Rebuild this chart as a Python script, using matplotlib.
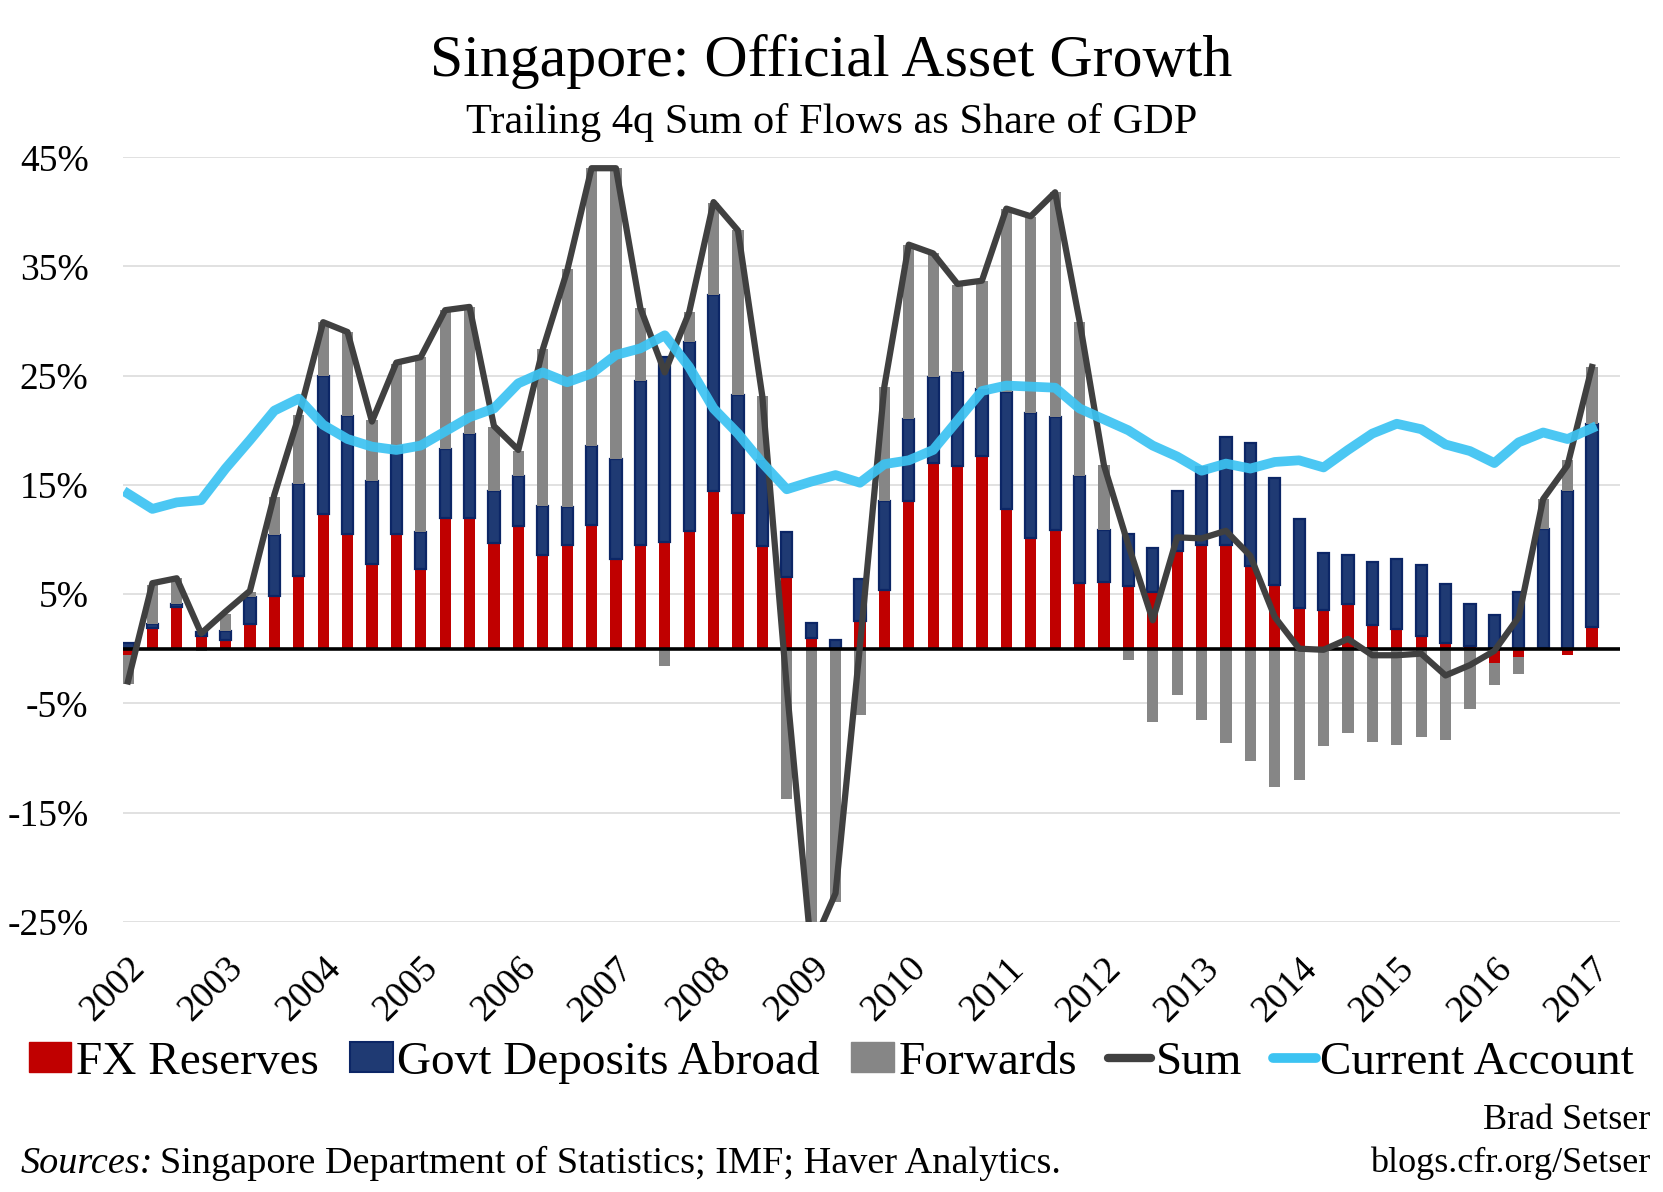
import numpy as np
import matplotlib
matplotlib.use("Agg")
import matplotlib.pyplot as plt
from matplotlib.lines import Line2D
from matplotlib.patches import Patch
import matplotlib.transforms as mtrans

# ---------------- data (quarterly, 2002Q1 .. 2017Q1), % of GDP ----------------
years = [str(y) for y in range(2002, 2018)]

fx_reserves = [-0.6, 1.9, 3.85, 1.15, 0.8, 2.3, 4.85, 6.7, 12.3, 10.5,
               7.8, 10.5, 7.3, 12.0, 12.0, 9.7, 11.2, 8.6, 9.5, 11.3,
               8.2, 9.5, 9.8, 10.8, 14.4, 12.4, 9.4, 6.6, 1.0, 0.0,
               2.5, 5.4, 13.5, 17.0, 16.7, 17.65, 12.75, 10.1, 10.9, 6.0,
               6.1, 5.75, 5.2, 8.95, 9.5, 9.5, 7.6, 5.8, 3.7, 3.5,
               4.1, 2.2, 1.8, 1.2, 0.5, 0.25, -1.3, -0.8, 0.1, -0.6,
               2.0]

govt_deposits = [0.5, 0.35, 0.25, 0.4, 0.85, 2.45, 5.55, 8.4, 12.7, 10.8,
                 7.6, 8.1, 3.4, 6.3, 7.7, 4.7, 4.6, 4.5, 3.5, 7.3,
                 9.2, 15.0, 16.9, 17.3, 18.0, 10.8, 7.9, 4.1, 1.35, 0.8,
                 3.85, 8.1, 7.5, 7.9, 8.65, 6.15, 10.75, 11.5, 10.3, 9.8,
                 4.75, 4.75, 4.05, 5.45, 7.1, 9.9, 11.2, 9.8, 8.2, 5.3,
                 4.45, 5.7, 6.4, 6.45, 5.45, 3.85, 3.1, 5.2, 10.9, 14.4,
                 18.6]

forwards = [-2.6, 3.6, 2.35, -0.2, 1.5, 0.45, 3.5, 6.3, 4.9, 7.7,
            5.5, 7.5, 16.0, 12.7, 11.6, 5.9, 2.3, 14.3, 21.8, 25.4,
            26.6, 6.7, -1.6, 2.7, 8.4, 15.1, 5.8, -13.8, -29.9, -23.2,
            -6.1, 10.5, 16.0, 11.3, 7.95, 9.9, 16.8, 17.9, 20.6, 14.1,
            5.95, -1.0, -6.7, -4.2, -6.5, -8.6, -10.3, -12.7, -12.0, -8.9,
            -7.7, -8.5, -8.8, -8.1, -8.4, -5.5, -2.0, -1.5, 2.7, 2.9,
            5.2]

sum_total = [-3.0, 6.0, 6.45, 1.4, 3.4, 5.3, 14.1, 21.3, 29.9, 29.0,
             20.8, 26.2, 26.7, 31.0, 31.3, 20.4, 18.2, 27.4, 34.6, 44.0,
             44.0, 31.2, 25.3, 30.8, 40.9, 38.3, 23.1, -3.5, -27.5, -22.4,
             0.25, 24.0, 37.0, 36.2, 33.4, 33.7, 40.3, 39.6, 41.8, 30.0,
             16.8, 9.5, 2.6, 10.2, 10.1, 10.8, 8.5, 2.9, 0.0, -0.1,
             0.9, -0.6, -0.6, -0.45, -2.45, -1.5, -0.2, 2.9, 13.7, 16.8,
             25.8]

current_account = [14.2, 12.8, 13.4, 13.6, 16.5, 19.1, 21.8, 22.9, 20.5, 19.2,
                   18.5, 18.2, 18.6, 19.9, 21.2, 22.0, 24.3, 25.3, 24.4, 25.2,
                   26.9, 27.5, 28.7, 25.8, 22.0, 19.7, 17.0, 14.6, 15.3, 15.9,
                   15.2, 16.9, 17.25, 18.2, 20.9, 23.6, 24.1, 24.0, 23.9, 22.0,
                   21.0, 20.0, 18.6, 17.6, 16.3, 16.95, 16.5, 17.1, 17.25, 16.6,
                   18.2, 19.7, 20.6, 20.1, 18.7, 18.1, 17.0, 18.9, 19.8, 19.2,
                   20.2]

y_ticks = [-25, -15, -5, 5, 15, 25, 35, 45]

# ---------------- style ----------------
plt.rcParams['font.family'] = ['Liberation Serif', 'DejaVu Serif']

RED = '#C00000'
NAVY = '#1F3A73'
NAVY_EDGE = '#0C2666'
GRAY = '#868686'
SUM_C = '#404040'
CA_C = '#3CC3F2'

W, H = 1663, 1192
fig = plt.figure(figsize=(W / 100, H / 100), dpi=100)
left, right, top, bottom = 123.3, 1620, 157.3, 921.7
ax = fig.add_axes([left / W, 1 - bottom / H, (right - left) / W, (bottom - top) / H])

n = len(fx_reserves)
x = np.arange(n)
pos = np.zeros(n)
neg = np.zeros(n)
series = [
    (fx_reserves, RED, RED, 0.0),
    (govt_deposits, NAVY, NAVY_EDGE, 1.6),
    (forwards, GRAY, GRAY, 0.0),
]
for vals, fc, ec, lw in series:
    v = np.asarray(vals, dtype=float)
    b = np.where(v >= 0, pos, neg)
    ax.bar(x, v, 0.46, bottom=b, color=fc, edgecolor=ec, linewidth=lw, zorder=2)
    pos = pos + np.where(v >= 0, v, 0)
    neg = neg + np.where(v < 0, v, 0)

ax.axhline(0, color='black', lw=2.6, zorder=3)
ax.plot(x, sum_total, color=SUM_C, lw=4.5, zorder=4, solid_joinstyle='round')
ax.plot(x, current_account, color=CA_C, lw=7.0, alpha=0.92, zorder=5,
        solid_joinstyle='round')

ax.set_ylim(-25, 45)
ax.set_xlim(-0.19, 61.15)
ax.set_yticks(y_ticks)
ax.set_yticklabels([f'{t}%' for t in y_ticks], fontsize=27)
ax.yaxis.grid(True, color='#D9D9D9', lw=1.1)
ax.set_axisbelow(True)
for s in ax.spines.values():
    s.set_visible(False)
ax.tick_params(axis='y', length=0, pad=25)
ax.tick_params(axis='x', length=0, pad=21)

ax.set_xticks(np.arange(0, n, 4))
ax.set_xticklabels(years, fontsize=27, rotation=45, ha='right',
                   rotation_mode='anchor')
offset = mtrans.ScaledTranslation(0.0, 0, fig.dpi_scale_trans)
for lab in ax.get_xticklabels():
    lab.set_transform(lab.get_transform() + offset)

# ---------------- titles ----------------
fig.text(0.5, 1 - 76 / H, 'Singapore: Official Asset Growth', ha='center',
         va='baseline', fontsize=43)
fig.text(0.5, 1 - 133 / H, 'Trailing 4q Sum of Flows as Share of GDP',
         ha='center', va='baseline', fontsize=30.5)

# ---------------- legend ----------------
handles = [
    Patch(facecolor=RED, edgecolor=RED),
    Patch(facecolor=NAVY, edgecolor=NAVY_EDGE, linewidth=1.5),
    Patch(facecolor=GRAY, edgecolor=GRAY),
    Line2D([0], [0], color=SUM_C, lw=6, solid_capstyle='round'),
    Line2D([0], [0], color=CA_C, lw=7, solid_capstyle='round'),
]
labels = ['FX Reserves', 'Govt Deposits Abroad', 'Forwards', 'Sum', 'Current Account']
fig.legend(handles, labels, loc='center', bbox_to_anchor=(0.5, 1 - 1062 / H),
           ncol=5, frameon=False, fontsize=34, handlelength=0.9,
           handleheight=0.62, handletextpad=0.1, columnspacing=0.66,
           borderaxespad=0, borderpad=0)

# ---------------- footer ----------------
src_y = 1 - 1173 / H
t = fig.text(21 / W, src_y, 'Sources:', fontsize=27.5, va='baseline', style='italic')
fig.canvas.draw()
bb = t.get_window_extent()
fig.text((bb.x1 + 7) / W, src_y,
         'Singapore Department of Statistics; IMF; Haver Analytics.',
         fontsize=27.5, va='baseline')
fig.text(1650 / W, 1 - 1129 / H, 'Brad Setser', fontsize=26, ha='right', va='baseline')
fig.text(1650 / W, 1 - 1172 / H, 'blogs.cfr.org/Setser', fontsize=26, ha='right',
         va='baseline')

fig.savefig('out.png', dpi=100)
